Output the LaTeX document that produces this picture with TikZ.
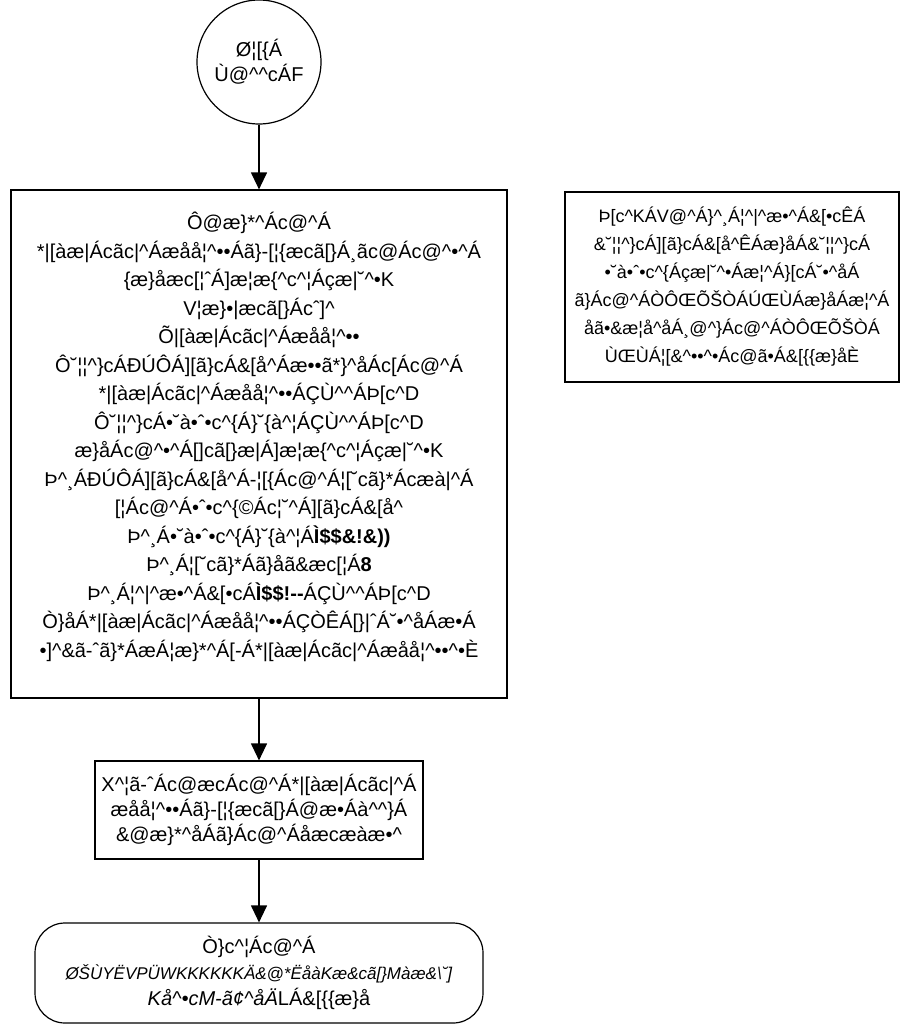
\documentclass[tikz,border=0pt]{standalone}
\usepackage{fontspec}
\setmainfont{Liberation Sans}
\usetikzlibrary{arrows.meta}
\newcommand\ci{\textasciicircum}
\begin{document}
\begin{tikzpicture}[x=1pt,y=-1pt,line width=1.2pt,
  txt/.style={align=center,font=\fontsize{20}{28.5}\selectfont},
  arr/.style={-{Triangle[width=16pt,length=17pt]}}]
\useasboundingbox (0,0) rectangle (904,1025);
\node[draw,circle,minimum size=124pt,inner sep=0pt,align=center,font=\fontsize{20}{25}\selectfont] (start) at (259,62) {Ø¦[\{Á\\Ù@\ci{}\ci{}cÁF};
\node[draw,minimum width=496pt,minimum height=508pt,inner sep=0pt] (main) at (259,444) {};
\node[txt,inner sep=0pt] (maintext) at (259,437) {Ô@æ\}*\ci{}Ác@\ci{}Á\\
*|[àæ|Ácãc|\ci{}Áæåå¦\ci{}••Áã\}-[¦\{æcã[\}Á¸ãc@Ác@\ci{}•\ci{}Á\\
\{æ\}åæc[¦ˆÁ]æ¦æ\{\ci{}c\ci{}¦Áçæ|˘\ci{}•K\\
V¦æ\}•|æcã[\}Ácˆ]\ci{}\\
Õ|[àæ|Ácãc|\ci{}Áæåå¦\ci{}••\\
Ô˘¦¦\ci{}\}cÁÐÚÔÁ][ã\}cÁ\&[å\ci{}Áæ••ã*\}\ci{}åÁc[Ác@\ci{}Á\\
*|[àæ|Ácãc|\ci{}Áæåå¦\ci{}••ÁÇÙ\ci{}\ci{}ÁÞ[c\ci{}D\\
Ô˘¦¦\ci{}\}cÁ•˘à•ˆ•c\ci{}\{Á\}˘\{à\ci{}¦ÁÇÙ\ci{}\ci{}ÁÞ[c\ci{}D\\
æ\}åÁc@\ci{}•\ci{}Á[]cã[\}æ|Á]æ¦æ\{\ci{}c\ci{}¦Áçæ|˘\ci{}•K\\
Þ\ci{}¸ÁÐÚÔÁ][ã\}cÁ\&[å\ci{}Á-¦[\{Ác@\ci{}Á¦[˘cã\}*Ácæà|\ci{}Á\\
{}[¦Ác@\ci{}Á•ˆ•c\ci{}\{©Ác¦˘\ci{}Á][ã\}cÁ\&[å\ci{}\\
Þ\ci{}¸Á•˘à•ˆ•c\ci{}\{Á\}˘\{à\ci{}¦Á\textbf{Ì\$\$\&!\&))}\\
Þ\ci{}¸Á¦[˘cã\}*Áã\}åã\&æc[¦Á\textbf{8}\\
Þ\ci{}¸Á¦\ci{}|\ci{}æ•\ci{}Á\&[•cÁ\textbf{Ì\$\$!-{}-}ÁÇÙ\ci{}\ci{}ÁÞ[c\ci{}D\\
Ò\}åÁ*|[àæ|Ácãc|\ci{}Áæåå¦\ci{}••ÁÇÒÊÁ[\}|ˆÁ˘•\ci{}åÁæ•Á\\
•]\ci{}\&ã-ˆã\}*ÁæÁ¦æ\}*\ci{}Á[-Á*|[àæ|Ácãc|\ci{}Áæåå¦\ci{}••\ci{}•È};
\node[draw,txt,font=\fontsize{18}{28}\selectfont,minimum width=334pt,minimum height=190pt,inner sep=0pt] (note) at (732,287) {Þ[c\ci{}KÁV@\ci{}Á\}\ci{}¸Á¦\ci{}|\ci{}æ•\ci{}Á\&[•cÊÁ\\
\&˘¦¦\ci{}\}cÁ][ã\}cÁ\&[å\ci{}ÊÁæ\}åÁ\&˘¦¦\ci{}\}cÁ\\
•˘à•ˆ•c\ci{}\{Áçæ|˘\ci{}•Áæ¦\ci{}Á\}[cÁ˘•\ci{}åÁ\\
ã\}Ác@\ci{}ÁÒÔŒÕŠÒÁÚŒÙÁæ\}åÁæ¦\ci{}Á\\
åã•\&æ¦å\ci{}åÁ¸@\ci{}\}Ác@\ci{}ÁÒÔŒÕŠÒÁ\\
ÙŒÙÁ¦[\&\ci{}••\ci{}•Ác@ã•Á\&[\{\{æ\}åÈ};
\node[draw,txt,font=\fontsize{20}{25}\selectfont,minimum width=328pt,minimum height=98pt,inner sep=0pt] (check) at (259,810) {X\ci{}¦ã-ˆÁc@æcÁc@\ci{}Á*|[àæ|Ácãc|\ci{}Á\\
æåå¦\ci{}••Áã\}-[¦\{æcã[\}Á@æ•Áà\ci{}\ci{}\}Á\\
\&@æ\}*\ci{}åÁã\}Ác@\ci{}Áåæcæàæ•\ci{}};
\node[draw,txt,font=\fontsize{20}{26}\selectfont,rounded corners=30pt,minimum width=448pt,minimum height=100pt,inner sep=0pt] (end) at (259,973) {Ò\}c\ci{}¦Ác@\ci{}Á\\
{\fontsize{17}{26}\selectfont\textit{ØŠÙYËVPÜWKKKKKKÄ\&@*ËåàKæ\&cã[\}Màæ\&\textbackslash˘]}}\\
\textit{Kå\ci{}•cM-ã¢\ci{}åÄ}LÁ\&[\{\{æ\}å};
\draw[arr] (start) -- (main);
\draw[arr] (main) -- (check);
\draw[arr] (check) -- (end);
\end{tikzpicture}
\end{document}
